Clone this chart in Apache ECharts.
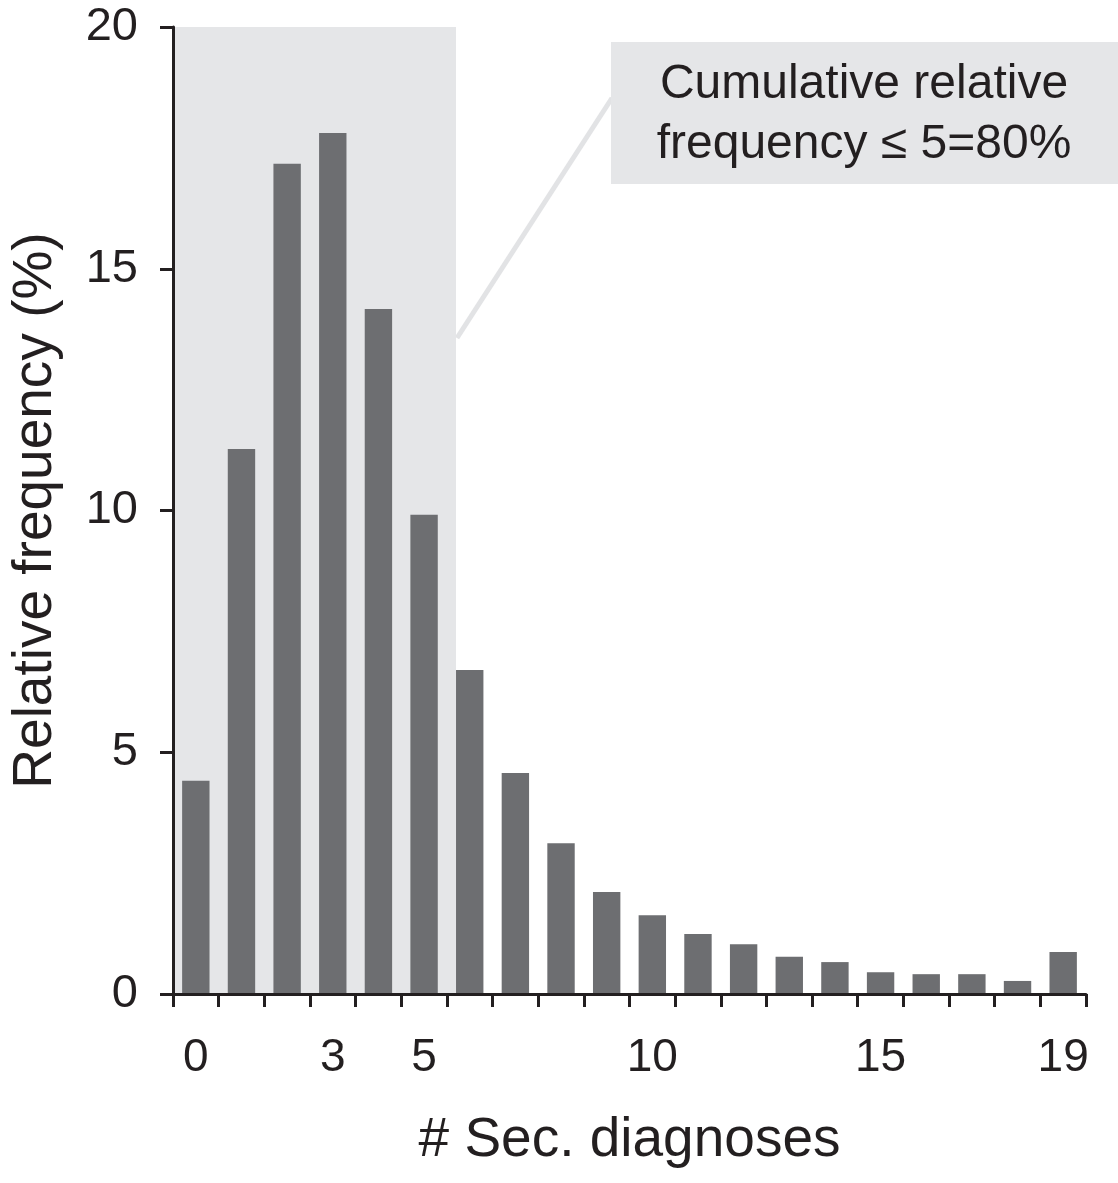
<!DOCTYPE html>
<html>
<head>
<meta charset="utf-8">
<script src="https://cdn.jsdelivr.net/npm/echarts@6/dist/echarts.min.js"></script>
<style>
html,body{margin:0;padding:0;background:#fff;}
#chart{width:1118px;height:1183px;}
</style>
</head>
<body>
<div id="chart"></div>
<script>
const categories = ['0','1','2','3','4','5','6','7','8','9','10','11','12','13','14','15','16','17','18','19'];
const relFreq = [4.41, 11.27, 17.17, 17.81, 14.17, 9.91, 6.70, 4.57, 3.12, 2.11, 1.63, 1.24, 1.03, 0.77, 0.66, 0.45, 0.41, 0.41, 0.27, 0.87];
const shownLabels = ['0','3','5','10','15','19'];
const yTicks = [0, 5, 10, 15, 20];
const shadeRange = [-0.5, 5.7];   // x extent of shaded region (in category units)
const calloutLines = ['Cumulative relative', 'frequency \u2264 5=80%'];

const FONT = '"Liberation Sans", Arial, Helvetica, sans-serif';
const INK = '#231f20';
const BAR = '#6d6e71';
const SHADE = '#e5e6e8';

const chart = echarts.init(document.getElementById('chart'));
chart.setOption({
  animation: false,
  backgroundColor: '#ffffff',
  textStyle: { fontFamily: FONT },
  grid: { left: 171, right: 32, top: 27, bottom: 189, containLabel: false },
  xAxis: [{
    type: 'category',
    data: categories,
    boundaryGap: true,
    name: '# Sec. diagnoses',
    nameLocation: 'middle',
    nameGap: 119,
    nameTextStyle: { fontSize: 55, color: INK, fontFamily: FONT },
    axisLine: { onZero: false, lineStyle: { color: INK, width: 3 } },
    axisTick: { show: true, length: 13, inside: false, alignWithLabel: false, interval: 0, lineStyle: { color: INK, width: 3 } },
    axisLabel: {
      fontSize: 46, color: INK, fontFamily: FONT, margin: 41,
      interval: function (idx, val) { return shownLabels.indexOf(val) >= 0; }
    },
    splitLine: { show: false },
    z: 5
  }, {
    type: 'value',
    min: -0.5, max: 19.5,
    show: false
  }],
  yAxis: {
    type: 'value',
    min: yTicks[0], max: yTicks[yTicks.length - 1], interval: 5,
    name: 'Relative frequency (%)',
    nameLocation: 'middle',
    nameGap: 110,
    nameTextStyle: { fontSize: 55, color: INK, fontFamily: FONT },
    axisLine: { show: true, onZero: false, lineStyle: { color: INK, width: 3 } },
    axisTick: { show: true, length: 13, inside: false, lineStyle: { color: INK, width: 3 } },
    axisLabel: { fontSize: 47, color: INK, fontFamily: FONT, margin: 35 },
    splitLine: { show: false },
    z: 5
  },
  series: [{
    type: 'line',
    xAxisIndex: 1,
    data: [],
    z: 0,
    silent: true,
    markArea: {
      silent: true,
      itemStyle: { color: SHADE },
      data: [[{ coord: [shadeRange[0], yTicks[0]] }, { coord: [shadeRange[1], 20.05] }]]
    }
  }, {
    type: 'bar',
    data: relFreq,
    barWidth: '60%',
    z: 3,
    itemStyle: { color: BAR }
  }],
  graphic: [{
    type: 'line',
    shape: { x1: 457, y1: 338, x2: 612, y2: 98 },
    style: { stroke: '#e2e3e5', lineWidth: 5 },
    z: 1
  }, {
    type: 'rect',
    shape: { x: 611, y: 42, width: 507, height: 142 },
    style: { fill: SHADE },
    z: 1
  }, {
    type: 'text',
    x: 864, y: 115,
    style: {
      text: calloutLines.join('\n'),
      fontSize: 48, lineHeight: 60, fontFamily: FONT, fill: INK,
      align: 'center', verticalAlign: 'middle'
    },
    z: 2
  }]
});
</script>
</body>
</html>
